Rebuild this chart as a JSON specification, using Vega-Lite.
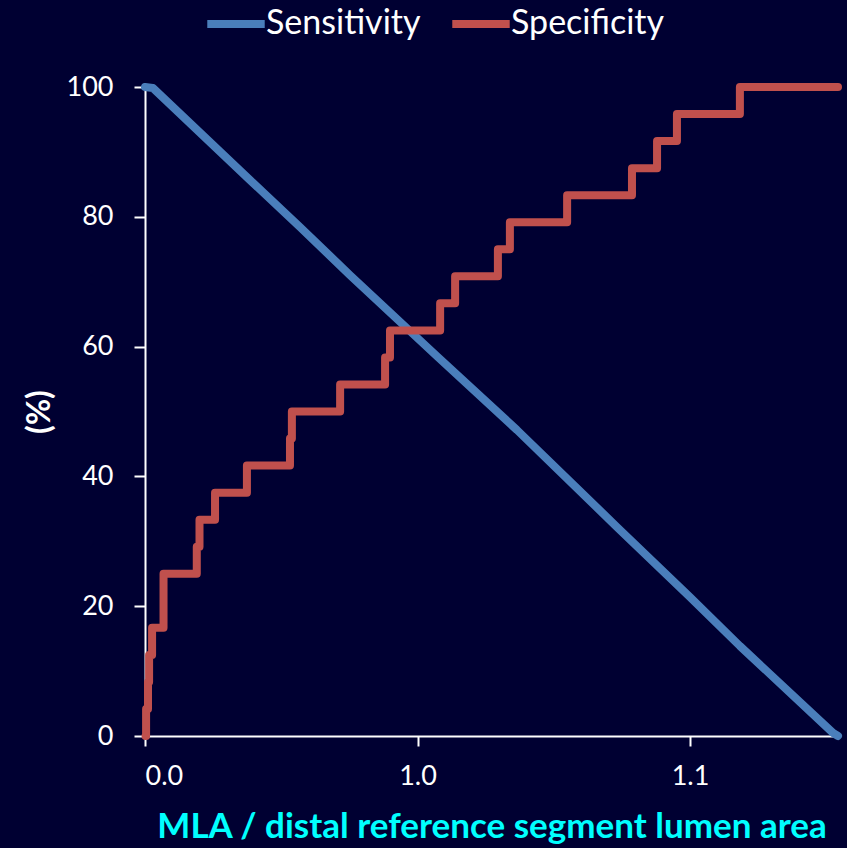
{
  "$schema": "https://vega.github.io/schema/vega-lite/v6.json",
  "width": 693,
  "height": 649,
  "autosize": {"type": "none"},
  "padding": {"left": 145, "top": 87, "right": 9, "bottom": 112},
  "background": "#000032",
  "config": {
    "view": {"stroke": null},
    "font": "Lato",
    "axis": {
      "grid": false,
      "domainColor": "#FFFFFF",
      "domainWidth": 2,
      "tickColor": "#FFFFFF",
      "tickWidth": 2,
      "labelColor": "#FFFFFF",
      "labelFont": "Lato",
      "labelFontSize": 27,
      "titleFont": "Lato"
    }
  },
  "datasets": {
    "sens": [
      {"x": 0.0, "y": 100, "series": "Sensitivity"},
      {"x": 0.029, "y": 99.85, "series": "Sensitivity"},
      {"x": 0.385, "y": 85.67, "series": "Sensitivity"},
      {"x": 0.569, "y": 78.4, "series": "Sensitivity"},
      {"x": 0.752, "y": 71.03, "series": "Sensitivity"},
      {"x": 1.072, "y": 58.5, "series": "Sensitivity"},
      {"x": 1.365, "y": 47.15, "series": "Sensitivity"},
      {"x": 1.732, "y": 32.2, "series": "Sensitivity"},
      {"x": 2.0, "y": 21.4, "series": "Sensitivity"},
      {"x": 2.183, "y": 13.87, "series": "Sensitivity"},
      {"x": 2.525, "y": 0.46, "series": "Sensitivity"},
      {"x": 2.543, "y": 0, "series": "Sensitivity"}
    ],
    "spec": [
      {"x": 0.002, "y": 0, "series": "Specificity"},
      {"x": 0.004, "y": 4.17, "series": "Specificity"},
      {"x": 0.011, "y": 8.33, "series": "Specificity"},
      {"x": 0.015, "y": 12.5, "series": "Specificity"},
      {"x": 0.026, "y": 16.67, "series": "Specificity"},
      {"x": 0.068, "y": 25, "series": "Specificity"},
      {"x": 0.19, "y": 29.17, "series": "Specificity"},
      {"x": 0.2, "y": 33.33, "series": "Specificity"},
      {"x": 0.257, "y": 37.5, "series": "Specificity"},
      {"x": 0.374, "y": 41.67, "series": "Specificity"},
      {"x": 0.532, "y": 45.83, "series": "Specificity"},
      {"x": 0.539, "y": 50, "series": "Specificity"},
      {"x": 0.716, "y": 54.17, "series": "Specificity"},
      {"x": 0.881, "y": 58.33, "series": "Specificity"},
      {"x": 0.899, "y": 62.5, "series": "Specificity"},
      {"x": 1.083, "y": 66.67, "series": "Specificity"},
      {"x": 1.138, "y": 70.83, "series": "Specificity"},
      {"x": 1.295, "y": 75, "series": "Specificity"},
      {"x": 1.339, "y": 79.17, "series": "Specificity"},
      {"x": 1.549, "y": 83.33, "series": "Specificity"},
      {"x": 1.787, "y": 87.5, "series": "Specificity"},
      {"x": 1.879, "y": 91.67, "series": "Specificity"},
      {"x": 1.952, "y": 95.83, "series": "Specificity"},
      {"x": 2.183, "y": 100, "series": "Specificity"},
      {"x": 2.543, "y": 100, "series": "Specificity"}
    ]
  },
  "encoding": {
    "x": {
      "field": "x",
      "type": "quantitative",
      "scale": {"domain": [0, 2.543], "nice": false, "zero": false},
      "axis": {
        "values": [0, 1, 2],
        "labelExpr": "datum.value == 0 ? '0.0' : datum.value == 1 ? '1.0' : '1.1'",
        "tickSize": 10,
        "labelPadding": 17,
        "title": "MLA / distal reference segment lumen area",
        "titleColor": "#00FFFF",
        "titleFontSize": 35,
        "titleFontWeight": "bold",
        "titlePadding": 20
      }
    },
    "y": {
      "field": "y",
      "type": "quantitative",
      "scale": {"domain": [0, 100], "nice": false},
      "axis": {
        "values": [0, 20, 40, 60, 80, 100],
        "tickSize": 11,
        "labelPadding": 21,
        "title": "(%)",
        "titleColor": "#FFFFFF",
        "titleFontSize": 32,
        "titleFontWeight": "bold",
        "titlePadding": 10
      }
    },
    "color": {
      "field": "series",
      "type": "nominal",
      "scale": {"domain": ["Sensitivity", "Specificity"], "range": ["#4A7EBB", "#C0504D"]},
      "legend": {
        "title": null,
        "orient": "none",
        "direction": "horizontal",
        "legendX": 58,
        "legendY": -96,
        "symbolType": "stroke",
        "symbolSize": 3300,
        "symbolStrokeWidth": 8,
        "labelColor": "#FFFFFF",
        "labelFont": "Lato",
        "labelFontSize": 34,
        "labelOffset": -3,
        "columnPadding": 15
      }
    }
  },
  "layer": [
    {
      "data": {"name": "sens"},
      "mark": {"type": "line", "strokeWidth": 8, "strokeCap": "round", "strokeJoin": "round"}
    },
    {
      "data": {"name": "spec"},
      "mark": {"type": "line", "strokeWidth": 8, "strokeCap": "round", "strokeJoin": "round", "interpolate": "step-after"}
    }
  ]
}
